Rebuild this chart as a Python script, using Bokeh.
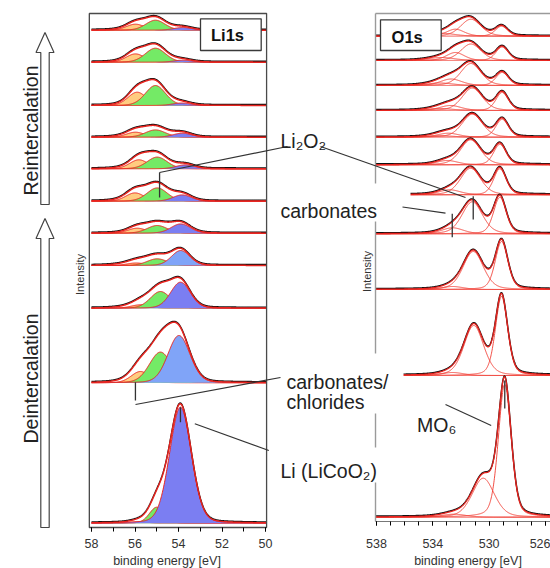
import numpy as np
from bokeh.plotting import figure
from bokeh.models import Range1d, LinearAxis, FixedTicker
from bokeh.core.properties import value
from bokeh.embed import file_html
from bokeh.resources import INLINE

# ---------------- data ----------------
li_ticks = [50, 52, 54, 56, 58]
li_minor_ticks = [50, 51, 52, 53, 54, 55, 56, 57, 58]
o_ticks = [526, 530, 534, 538]
o_minor_ticks = [526, 527, 528, 529, 530, 531, 532, 533, 534, 535, 536, 537, 538]
x_title = "binding energy [eV]"

# Li 1s spectra, top (last reintercalation) to bottom (pristine LiCoO2)
li_offsets = [497.3, 465.3, 422.0, 390.3, 358.7, 326.3, 294.3, 262.0, 219.3, 144.7, 4.3]
li_carb_center = [55.98, 55.98, 55.90, 55.98, 55.82, 56.00, 55.90, 55.95, 55.75, 55.75, 55.80]
li_carb_height = [6.0, 8.3, 13.3, 5.0, 9.0, 8.3, 5.0, 2.5, 3.4, 11.3, 1.5]
li_carb_fwhm = [1.0, 1.0, 1.0, 1.0, 1.0, 1.0, 1.0, 1.0, 1.0, 1.0, 0.9]
li_perox_center = [55.06, 55.06, 55.06, 55.06, 54.98, 54.98, 54.98, 54.98, 54.83, 54.83, 55.00]
li_perox_height = [10.0, 14.0, 20.0, 7.3, 11.7, 13.3, 7.7, 6.7, 16.7, 30.7, 16.0]
li_perox_fwhm = [1.05, 1.1, 1.1, 1.1, 1.1, 1.1, 1.1, 1.1, 1.1, 1.2, 0.8]
li_coo2_center = [53.80, 53.80, 53.85, 53.83, 53.68, 53.83, 53.90, 53.90, 53.91, 53.98, 53.91]
li_coo2_height = [2.7, 2.0, 2.5, 4.0, 4.0, 6.3, 9.3, 15.0, 26.0, 47.3, 116.0]
li_coo2_fwhm = [1.0, 1.0, 1.0, 1.0, 1.0, 1.0, 1.05, 1.0, 1.07, 1.2, 1.18]
li_rest_center = [55.3, 55.3, 55.3, 55.3, 55.3, 55.3, 55.0, 55.3, 55.3, 55.3, 54.6]
li_rest_height = [3.0, 3.4, 3.3, 3.8, 3.8, 5.0, 3.0, 4.0, 5.0, 8.0, 5.0]
li_rest_fwhm = [2.2, 2.2, 2.2, 2.2, 2.2, 2.2, 2.4, 2.4, 2.0, 1.9, 1.6]

# O 1s spectra, same order
o_offsets = [491.3, 467.0, 442.0, 417.0, 390.3, 362.7, 332.7, 293.7, 238.0, 152.0, 10.3]
o_main_center = [531.30, 531.30, 531.30, 531.20, 531.20, 531.32, 531.32, 531.20, 531.13, 531.09, 530.42]
o_main_height = [17.0, 16.5, 22.0, 22.5, 23.0, 25.0, 26.5, 32.0, 38.0, 50.0, 39.0]
o_main_fwhm = [1.7, 1.7, 1.7, 1.7, 1.7, 1.7, 1.7, 1.7, 1.7, 1.66, 1.85]
o_mo6_center = [529.12, 529.08, 529.08, 529.08, 529.08, 529.24, 529.24, 529.24, 529.12, 529.12, 528.89]
o_mo6_height = [10.0, 13.5, 13.0, 18.0, 18.0, 20.5, 26.0, 36.5, 48.0, 79.0, 133.0]
o_mo6_fwhm = [1.05, 1.05, 1.05, 1.05, 1.05, 1.05, 1.05, 1.05, 1.05, 1.02, 1.07]
o_carb_center = [532.40, 532.40, 532.70, 532.75, 532.90, 532.98, 532.80, 532.60, 532.60, 532.60, 532.50]
o_carb_height = [7.0, 8.0, 6.5, 5.0, 4.0, 4.3, 5.0, 6.0, 3.0, 3.0, 3.0]
o_carb_fwhm = [1.5, 1.5, 1.8, 1.8, 1.8, 1.8, 1.8, 1.8, 1.8, 1.8, 2.0]
o_high_center = [533.4, 533.4, 533.5, 533.5, 533.5, 533.5, 533.5, 533.5, 533.5, 533.5, 533.5]
o_high_height = [3.0, 3.0, 2.5, 2.0, 1.5, 0.0, 0.0, 0.0, 0.0, 0.0, 0.0]
o_high_fwhm = [2.2, 2.2, 2.2, 2.2, 2.2, 2.2, 2.2, 2.2, 2.2, 2.2, 2.2]

# markers (binding energies) used by the annotations
li_mark_perox = 54.87
li_mark_carb = 55.98
li_mark_coo2 = 53.91
o_mark_perox = 531.13
o_mark_carb = 532.62
o_mark_mo6 = 528.89

# ---------------- layout / style ----------------
W, H = 550, 568
FRAME_H = 527                              # y of the bottom axes (px from top)
LI_E0_PX, LI_PX_PER_EV = 91.0, 21.75      # 58 eV at x=91 px
O_E0_PX, O_PX_PER_EV = 376.0, 14.08       # 538 eV at x=376 px
FONT = "Liberation Sans"
RED = "#e8231e"
ORANGE = "#ffcc80"
GREEN = "#74ea66"
BLUE = "#7b7ef2"
LIGHT_BLUE = "#80a4f8"
li_blue_style = [BLUE, BLUE, BLUE, BLUE, BLUE, BLUE, BLUE, LIGHT_BLUE, BLUE, LIGHT_BLUE, BLUE]


def Y(py):
    return FRAME_H - py


def pv(e, c, h, fwhm, eta):
    s = fwhm / 2.3548
    g = np.exp(-0.5 * ((e - c) / s) ** 2)
    lo = 1.0 / (1.0 + ((e - c) / (fwhm / 2.0)) ** 2)
    return h * ((1 - eta) * g + eta * lo)


li_range = Range1d(58 + LI_E0_PX / LI_PX_PER_EV, 58 - (W - LI_E0_PX) / LI_PX_PER_EV)
o_range = Range1d(538 + O_E0_PX / O_PX_PER_EV, 538 - (W - O_E0_PX) / O_PX_PER_EV)

p = figure(width=W, height=H, x_range=li_range, y_range=Range1d(FRAME_H - H, FRAME_H),
           output_backend="svg", toolbar_location=None,
           x_axis_location=None, y_axis_location=None,
           min_border_left=0, min_border_right=0, min_border_top=0, min_border_bottom=0,
           outline_line_color=None, background_fill_color="white", border_fill_color="white")
p.grid.visible = False
p.extra_x_ranges = {"o1s": o_range, "px": Range1d(0, W)}

LI_LEFT, LI_RIGHT = 58.1, 49.95
O_LEFT, O_RIGHT = 538.07, o_range.end
TOP = Y(13)
O_AXIS_Y = Y(521)

# ---------------- Li 1s panel ----------------
e_li = np.linspace(58.0, 49.95, 500)
for i in range(len(li_offsets)):
    off = li_offsets[i]
    carb = pv(e_li, li_carb_center[i], li_carb_height[i], li_carb_fwhm[i], 0.15)
    perox = pv(e_li, li_perox_center[i], li_perox_height[i], li_perox_fwhm[i], 0.15)
    coo2 = pv(e_li, li_coo2_center[i], li_coo2_height[i], li_coo2_fwhm[i], 0.15)
    rest = pv(e_li, li_rest_center[i], li_rest_height[i], li_rest_fwhm[i], 0.15)
    total = carb + perox + coo2 + rest
    base = np.full_like(e_li, off)
    for comp, col in ((carb, ORANGE), (perox, GREEN), (coo2, li_blue_style[i])):
        p.varea(x=e_li, y1=base, y2=off + comp, fill_color=col)
        p.line(e_li, off + comp, line_color=RED, line_width=1.0)
    p.line(e_li, off + total + 0.9, line_color="#111111", line_width=1.3)
    p.line(e_li, off + total, line_color=RED, line_width=1.5)

p.quad(left=[LI_LEFT], right=[LI_RIGHT], bottom=[0], top=[TOP],
       fill_color=None, line_color="#4a4a4a", line_width=1.3)

# ---------------- O 1s panel ----------------
e_o = np.linspace(538.07, o_range.end, 600)
for i in range(len(o_offsets)):
    off = o_offsets[i]
    comps = [pv(e_o, o_high_center[i], o_high_height[i], o_high_fwhm[i], 0.3),
             pv(e_o, o_carb_center[i], o_carb_height[i], o_carb_fwhm[i], 0.3),
             pv(e_o, o_main_center[i], o_main_height[i], o_main_fwhm[i], 0.3),
             pv(e_o, o_mo6_center[i], o_mo6_height[i], o_mo6_fwhm[i], 0.3)]
    total = sum(comps)
    for comp in comps:
        p.line(e_o, off + comp, line_color="#f03a30", line_width=0.9, x_range_name="o1s")
    p.line(e_o, off + total + 0.8, line_color="#111111", line_width=1.4, x_range_name="o1s")
    p.line(e_o, off + total, line_color=RED, line_width=1.3, x_range_name="o1s")

p.segment(x0=[O_LEFT, O_LEFT], y0=[O_AXIS_Y, TOP], x1=[O_LEFT, O_RIGHT], y1=[TOP, TOP],
          line_color="#9a9a9a", line_width=1.4, x_range_name="o1s")

# white backgrounds of the callout labels
p.quad(left=[268, 268, 268], right=[410, 403, 382],
       bottom=[Y(221), Y(413), Y(482)], top=[Y(183), Y(353), Y(447)],
       fill_color="white", line_color=None, x_range_name="px")

# panel title boxes
p.quad(left=[200, 380], right=[260.7, 440.7], bottom=[Y(50), Y(50)], top=[Y(18.3), Y(19.3)],
       fill_color="white", line_color="#3a3a3a", line_width=1.3, x_range_name="px")
p.text(x=[227, 406.7], y=[Y(34), Y(36.5)], text=["Li1s", "O1s"], x_range_name="px",
       text_font=value(FONT), text_font_size="16.5px", text_font_style="bold",
       text_color="#111", text_align="center", text_baseline="middle")

# ---------------- axes ----------------
def style_axis(ax):
    ax.major_label_text_font = FONT
    ax.major_label_text_font_size = "12.5px"
    ax.major_label_text_color = "#333333"
    ax.major_tick_in = 0
    ax.major_tick_out = 4
    ax.minor_tick_in = 0
    ax.minor_tick_out = 4


li_axis = LinearAxis(ticker=FixedTicker(ticks=li_ticks, minor_ticks=li_minor_ticks),
                     bounds=(LI_RIGHT, LI_LEFT), fixed_location=0)
style_axis(li_axis)
li_axis.major_label_standoff = 7
li_axis.axis_line_color = "#4a4a4a"
p.add_layout(li_axis, "below")

o_axis = LinearAxis(x_range_name="o1s", ticker=FixedTicker(ticks=o_ticks, minor_ticks=o_minor_ticks),
                    bounds=(O_RIGHT, O_LEFT), fixed_location=O_AXIS_Y)
style_axis(o_axis)
o_axis.major_label_standoff = 7 + int(O_AXIS_Y)
o_axis.axis_line_color = "#777777"
p.add_layout(o_axis, "below")

# axis titles, centred where the reference centres them
p.text(x=[166.5, 467.5], y=[Y(560), Y(560)], text=[x_title, x_title], x_range_name="px",
       text_font=value(FONT), text_font_size="12.5px", text_color="#333333",
       text_align="center", text_baseline="alphabetic")

# ---------------- arrows + side labels ----------------
ARROW_CX, SHAFT_HW, HEAD_HW, HEAD_LEN = 44.5, 4.2, 9.0, 20.0
for tip, bottom in ((32, 204), (218, 527)):
    xs = [ARROW_CX - SHAFT_HW, ARROW_CX - SHAFT_HW, ARROW_CX - HEAD_HW, ARROW_CX,
          ARROW_CX + HEAD_HW, ARROW_CX + SHAFT_HW, ARROW_CX + SHAFT_HW]
    ys = [Y(bottom), Y(tip + HEAD_LEN), Y(tip + HEAD_LEN), Y(tip),
          Y(tip + HEAD_LEN), Y(tip + HEAD_LEN), Y(bottom)]
    p.patch(xs, ys, fill_color="white", line_color="#444444", line_width=1.2, x_range_name="px")

p.text(x=[30, 30], y=[Y(130), Y(378)], text=["Reintercalation", "Deintercalation"],
       x_range_name="px", angle=np.pi / 2, text_font=value(FONT), text_font_size="19.5px",
       text_color="#222222", text_align="center", text_baseline="alphabetic")
p.text(x=[79.5, 366], y=[Y(274), Y(271)], text=["Intensity", "Intensity"],
       x_range_name="px", angle=np.pi / 2, text_font=value(FONT), text_font_size="11px",
       text_color="#333333", text_align="center", text_baseline="alphabetic")

# ---------------- callouts ----------------
p.segment(x0=[287, 320, 402, 280, 268.3, 445], y0=[Y(146), Y(146), Y(206.5), Y(377), Y(450), Y(404)],
          x1=[159, 465, 445, 135, 194.3, 490.7], y1=[Y(172), Y(197), Y(212.7), Y(404), Y(423.3), Y(425)],
          line_color="#333333", line_width=1.2, x_range_name="px")
p.segment(x0=[li_mark_perox, li_mark_carb, li_mark_coo2], x1=[li_mark_perox, li_mark_carb, li_mark_coo2],
          y0=[Y(172), Y(381.7), Y(406.7)], y1=[Y(197), Y(400), Y(421.7)],
          line_color="#333333", line_width=1.3)
p.segment(x0=[o_mark_perox, o_mark_carb, o_mark_mo6], x1=[o_mark_perox, o_mark_carb, o_mark_mo6],
          y0=[Y(195.7), Y(213.3), Y(380)], y1=[Y(219), Y(236.7), Y(408)],
          line_color="#333333", line_width=1.3, x_range_name="o1s")

p.text(x=[280, 280, 286, 286, 280, 416.5],
       y=[Y(140), Y(210), Y(381.7), Y(401.7), Y(470.7), Y(424)],
       text=["Li\u2082O\u2082", "carbonates", "carbonates/", "chlorides", "Li (LiCoO\u2082)", "MO\u2086"],
       x_range_name="px", text_font=value(FONT), text_font_size="19.5px",
       text_color="#222222", text_align="left", text_baseline="alphabetic")

open("out.html", "w").write(file_html(p, INLINE))
